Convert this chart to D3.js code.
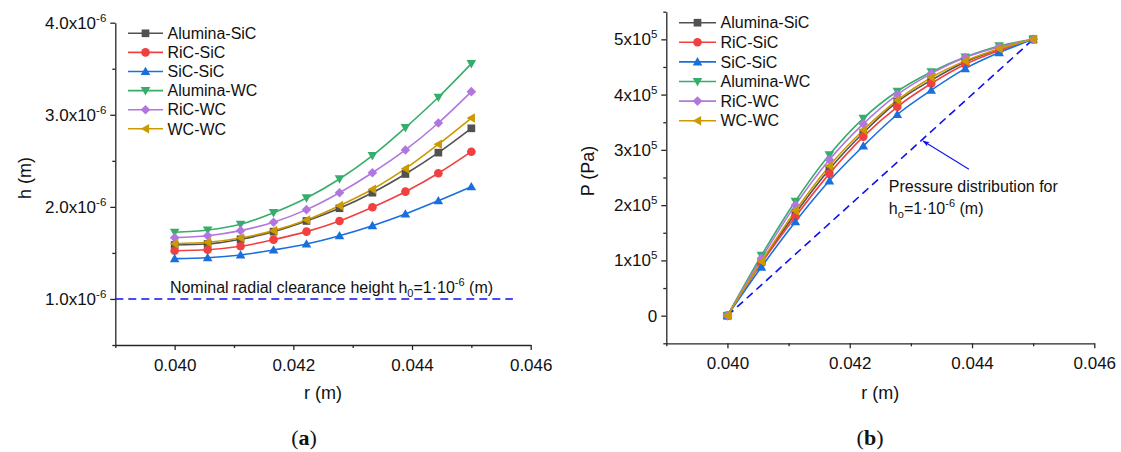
<!DOCTYPE html>
<html>
<head>
<meta charset="utf-8">
<script src="https://cdn.jsdelivr.net/npm/d3@7"></script>
<style>
  html, body { margin: 0; padding: 0; background: #fff; }
  svg { display: block; font-family: "Liberation Sans", Arial, sans-serif; }
</style>
</head>
<body>
<svg id="chart" width="1121" height="452"></svg>
<script>
// Radial positions (m) shared by both panels
const radius = [0.0400, 0.040556, 0.041111, 0.041667, 0.042222, 0.042778, 0.043333, 0.043889, 0.044444, 0.0450];

// Material pairs, in legend order
const pairs = ["Alumina-SiC", "RiC-SiC", "SiC-SiC", "Alumina-WC", "RiC-WC", "WC-WC"];
const pairColors = ["#515151", "#F14040", "#1A6FDF", "#37AD6B", "#B177DE", "#CC9900"];
const pairMarkers = ["square", "circle", "triangleUp", "triangleDown", "diamond", "triangleLeft"];

// (a) film thickness h (m)
const hAluminaSiC = [1.586e-6, 1.597e-6, 1.648e-6, 1.731e-6, 1.847e-6, 1.985e-6, 2.154e-6, 2.357e-6, 2.589e-6, 2.853e-6];
const hRiCSiC     = [1.524e-6, 1.535e-6, 1.572e-6, 1.644e-6, 1.731e-6, 1.847e-6, 1.996e-6, 2.165e-6, 2.365e-6, 2.599e-6];
const hSiCSiC     = [1.438e-6, 1.448e-6, 1.478e-6, 1.532e-6, 1.597e-6, 1.687e-6, 1.796e-6, 1.923e-6, 2.067e-6, 2.219e-6];
const hAluminaWC  = [1.724e-6, 1.749e-6, 1.811e-6, 1.937e-6, 2.097e-6, 2.303e-6, 2.556e-6, 2.860e-6, 3.190e-6, 3.555e-6];
const hRiCWC      = [1.666e-6, 1.687e-6, 1.742e-6, 1.833e-6, 1.970e-6, 2.154e-6, 2.371e-6, 2.618e-6, 2.911e-6, 3.251e-6];
const hWCWC       = [1.600e-6, 1.615e-6, 1.662e-6, 1.742e-6, 1.858e-6, 2.013e-6, 2.191e-6, 2.415e-6, 2.680e-6, 2.965e-6];

// (b) pressure P (Pa)
const pAluminaSiC = [0, 0.97e5, 1.85e5, 2.65e5, 3.31e5, 3.87e5, 4.26e5, 4.59e5, 4.82e5, 5.0e5];
const pRiCSiC     = [0, 0.95e5, 1.79e5, 2.57e5, 3.24e5, 3.78e5, 4.20e5, 4.55e5, 4.80e5, 5.0e5];
const pSiCSiC     = [0, 0.88e5, 1.70e5, 2.44e5, 3.07e5, 3.64e5, 4.08e5, 4.47e5, 4.76e5, 5.0e5];
const pAluminaWC  = [0, 1.09e5, 2.07e5, 2.91e5, 3.57e5, 4.06e5, 4.41e5, 4.68e5, 4.88e5, 5.0e5];
const pRiCWC      = [0, 1.04e5, 2.00e5, 2.82e5, 3.47e5, 4.00e5, 4.38e5, 4.67e5, 4.86e5, 5.0e5];
const pWCWC       = [0, 0.98e5, 1.90e5, 2.71e5, 3.36e5, 3.90e5, 4.31e5, 4.61e5, 4.83e5, 5.0e5];

// Nominal clearance reference (a) and its linear pressure profile (b)
const nominalH = 1.0e-6;
const nominalR = [0.0390, 0.04570];
const linearR = [0.0400, 0.0450];
const linearP = [0, 5.0e5];

// Axis ticks
const rTicks = [0.040, 0.042, 0.044, 0.046];
const rTickLabels = ["0.040", "0.042", "0.044", "0.046"];
const rMinor = [0.039, 0.041, 0.043, 0.045];
const hTicks = [1e-6, 2e-6, 3e-6, 4e-6];
const hTickMantissa = ["1.0", "2.0", "3.0", "4.0"];
const hMinor = [0.5e-6, 1.5e-6, 2.5e-6, 3.5e-6];
const pTicks = [0, 1e5, 2e5, 3e5, 4e5, 5e5];
const pTickMantissa = ["0", "1", "2", "3", "4", "5"];
const pMinor = [-0.5e5, 0.5e5, 1.5e5, 2.5e5, 3.5e5, 4.5e5, 5.5e5];

const hSeries = [hAluminaSiC, hRiCSiC, hSiCSiC, hAluminaWC, hRiCWC, hWCWC];
const pSeries = [pAluminaSiC, pRiCSiC, pSiCSiC, pAluminaWC, pRiCWC, pWCWC];

const svg = d3.select("#chart");
svg.append("rect").attr("width", 1121).attr("height", 452).attr("fill", "#fff");

const axisColor = "#262626";
const dashBlue = "#1010f0";

function markerPath(type, s) {
  const t = s * 0.75;
  switch (type) {
    case "square": return `M${-s*0.8},${-s*0.8}H${s*0.8}V${s*0.8}H${-s*0.8}Z`;
    case "circle": return `M${s*0.9},0A${s*0.9},${s*0.9} 0 1,1 ${-s*0.9},0A${s*0.9},${s*0.9} 0 1,1 ${s*0.9},0Z`;
    case "triangleUp": return `M0,${-s}L${s},${t}L${-s},${t}Z`;
    case "triangleDown": return `M0,${s}L${s},${-t}L${-s},${-t}Z`;
    case "triangleLeft": return `M${-s},0L${t},${-s}L${t},${s}Z`;
    case "diamond": return `M0,${-s}L${s},0L0,${s}L${-s},0Z`;
  }
}

function drawPanel(opt) {
  const { x, y, series, yTicks, yMinor, yMantissa, yExp, yTitle, titleX, titleY, legend } = opt;
  const g = svg.append("g");

  // bottom axis: major + minor ticks
  const xAxis = d3.axisBottom(x).tickValues(rTicks).tickSize(5).tickSizeOuter(0)
    .tickFormat((d, i) => rTickLabels[i]);
  const gx = g.append("g").attr("transform", `translate(0,${y.range()[0]})`).call(xAxis);
  gx.append("g").call(d3.axisBottom(x).tickValues(rMinor).tickSize(3).tickFormat(""))
    .select(".domain").remove();
  gx.selectAll("path, line").attr("stroke", axisColor).attr("stroke-width", 1.3);
  gx.selectAll(".tick text").attr("font-size", 17).attr("fill", "#111")
    .attr("font-family", "Liberation Sans, Arial, sans-serif").attr("dy", "1.05em");

  // left axis: major + minor ticks, labels with powers of ten
  const yAxis = d3.axisLeft(y).tickValues(yTicks).tickSize(5).tickSizeOuter(0).tickFormat("");
  const gy = g.append("g").attr("transform", `translate(${x.range()[0]},0)`).call(yAxis);
  gy.append("g").call(d3.axisLeft(y).tickValues(yMinor).tickSize(3).tickFormat(""))
    .select(".domain").remove();
  gy.selectAll("path, line").attr("stroke", axisColor).attr("stroke-width", 1.3);
  gy.selectAll(".tick text").remove();
  yTicks.forEach((v, i) => {
    const t = g.append("text")
      .attr("x", x.range()[0] - 9).attr("y", y(v) + 6)
      .attr("text-anchor", "end").attr("font-size", 17).attr("fill", "#111");
    if (yMantissa[i] === "0") {
      t.text("0");
    } else {
      t.append("tspan").text(yMantissa[i] + "x10");
      t.append("tspan").attr("dy", -7).attr("font-size", 11.5).text(yExp);
    }
  });

  // axis titles
  g.append("text").attr("x", (x.range()[0] + x.range()[1]) / 2).attr("y", 399)
    .attr("text-anchor", "middle").attr("font-size", 18).attr("fill", "#111").text("r (m)");
  g.append("text").attr("transform", `translate(${titleX},${titleY}) rotate(-90)`)
    .attr("text-anchor", "middle").attr("font-size", 18).attr("fill", "#111").text(yTitle);

  // series lines and markers
  const line = d3.line().x(d => x(d[0])).y(d => y(d[1])).curve(d3.curveMonotoneX);
  series.forEach((vals, k) => {
    const pts = radius.map((r, i) => [r, vals[i]]);
    g.append("path").datum(pts).attr("d", line).attr("fill", "none")
      .attr("stroke", pairColors[k]).attr("stroke-width", 1.6);
  });
  series.forEach((vals, k) => {
    g.append("g").selectAll("path").data(radius.map((r, i) => [r, vals[i]])).join("path")
      .attr("transform", d => `translate(${x(d[0])},${y(d[1])})`)
      .attr("d", markerPath(pairMarkers[k], 4.8))
      .attr("fill", pairColors[k]);
  });

  // legend
  pairs.forEach((name, k) => {
    const ly = legend.y0 + legend.dy * k;
    const lg = g.append("g");
    lg.append("line").attr("x1", legend.x0).attr("x2", legend.x1).attr("y1", ly).attr("y2", ly)
      .attr("stroke", pairColors[k]).attr("stroke-width", 1.6);
    lg.append("path").attr("transform", `translate(${(legend.x0 + legend.x1) / 2},${ly})`)
      .attr("d", markerPath(pairMarkers[k], 4.8)).attr("fill", pairColors[k]);
    lg.append("text").attr("x", legend.x1 + 4.5).attr("y", ly).attr("dy", "0.36em")
      .attr("font-size", 16).attr("fill", "#111").text(name);
  });
  return g;
}

function caption(cx, letter) {
  const t = svg.append("text").attr("x", cx).attr("y", 445).attr("text-anchor", "middle")
    .attr("font-family", "Liberation Serif, 'DejaVu Serif', serif").attr("font-size", 22).attr("fill", "#111");
  t.append("tspan").text("(");
  t.append("tspan").attr("font-weight", "bold").text(letter);
  t.append("tspan").text(")");
}

// ---------- (a) film thickness ----------
const xA = d3.scaleLinear().domain([0.039, 0.046]).range([115.3, 530.7]);
const yA = d3.scaleLinear().domain([0.5e-6, 4.0e-6]).range([345, 22.7]);

const gA = drawPanel({
  x: xA, y: yA, series: hSeries, yTicks: hTicks, yMinor: hMinor, yMantissa: hTickMantissa, yExp: "-6",
  yTitle: "h (m)", titleX: 31, titleY: 178,
  legend: { x0: 128, x1: 163, y0: 33.3, dy: 19.1 }
});

gA.append("line")
  .attr("x1", xA(nominalR[0])).attr("x2", xA(nominalR[1]))
  .attr("y1", yA(nominalH)).attr("y2", yA(nominalH))
  .attr("stroke", dashBlue).attr("stroke-width", 1.6).attr("stroke-dasharray", "8,5");

const noteA = gA.append("text").attr("x", xA(0.03992)).attr("y", yA(nominalH) - 6)
  .attr("font-size", 16).attr("fill", "#111");
noteA.append("tspan").text("Nominal radial clearance height h");
noteA.append("tspan").attr("dy", 4).attr("font-size", 11).text("0");
noteA.append("tspan").attr("dy", -4).text("=1\u00B710");
noteA.append("tspan").attr("dy", -7).attr("font-size", 11).text("-6");
noteA.append("tspan").attr("dy", 7).text(" (m)");

caption(304, "a");

// ---------- (b) pressure ----------
const xB = d3.scaleLinear().domain([0.039, 0.046]).range([666.3, 1094.3]);
const yB = d3.scaleLinear().domain([-0.5e5, 5.5e5]).range([343.3, 11.7]);

// linear profile for the nominal clearance, drawn beneath the series
const gLin = svg.append("g");
gLin.append("line")
  .attr("x1", xB(linearR[0])).attr("y1", yB(linearP[0]))
  .attr("x2", xB(linearR[1])).attr("y2", yB(linearP[1]))
  .attr("stroke", dashBlue).attr("stroke-width", 1.6).attr("stroke-dasharray", "8,5");

const gB = drawPanel({
  x: xB, y: yB, series: pSeries, yTicks: pTicks, yMinor: pMinor, yMantissa: pTickMantissa, yExp: "5",
  yTitle: "P (Pa)", titleX: 594, titleY: 171,
  legend: { x0: 679, x1: 716, y0: 22.7, dy: 19.6 }
});

svg.append("defs").append("marker").attr("id", "arrowHead")
  .attr("viewBox", "0 0 10 10").attr("refX", 9).attr("refY", 5)
  .attr("markerWidth", 9).attr("markerHeight", 7).attr("orient", "auto")
  .attr("markerUnits", "userSpaceOnUse")
  .append("path").attr("d", "M0,1.5L10,5L0,8.5L2.5,5Z").attr("fill", dashBlue);

gB.append("line")
  .attr("x1", xB(0.04395)).attr("y1", yB(2.65e5))
  .attr("x2", xB(0.04320)).attr("y2", yB(3.16e5))
  .attr("stroke", dashBlue).attr("stroke-width", 1.1).attr("marker-end", "url(#arrowHead)");

const noteB1 = gB.append("text").attr("x", xB(0.04264)).attr("y", yB(2.24e5))
  .attr("font-size", 16).attr("fill", "#111").text("Pressure distribution for");
const noteB2 = gB.append("text").attr("x", xB(0.04264)).attr("y", yB(2.24e5) + 22.5)
  .attr("font-size", 16).attr("fill", "#111");
noteB2.append("tspan").text("h");
noteB2.append("tspan").attr("dy", 4).attr("font-size", 11).text("o");
noteB2.append("tspan").attr("dy", -4).text("=1\u00B710");
noteB2.append("tspan").attr("dy", -7).attr("font-size", 11).text("-6");
noteB2.append("tspan").attr("dy", 7).text(" (m)");

caption(870, "b");
</script>
</body>
</html>
